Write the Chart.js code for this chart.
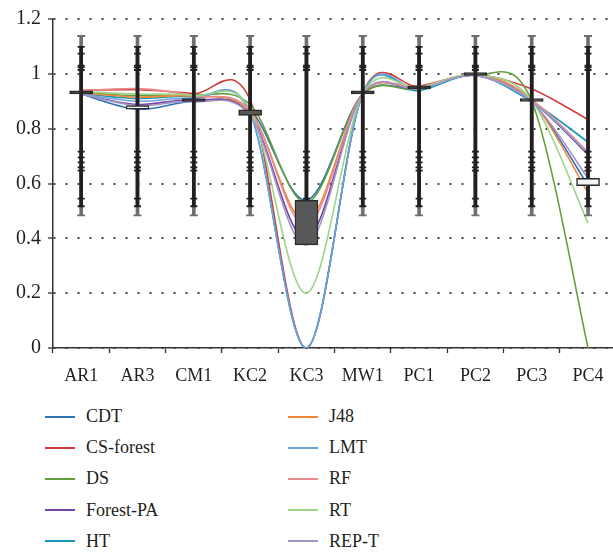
<!DOCTYPE html>
<html>
<head>
<meta charset="utf-8">
<script src="https://cdn.jsdelivr.net/npm/chart.js@4.4.1/dist/chart.umd.min.js"></script>
<style>
  html, body { margin: 0; padding: 0; background: #fff; overflow: hidden; }
  #wrap { position: relative; width: 613px; height: 554px; overflow: hidden; }
  #chart { position: absolute; left: 0; top: 0; }
  #legend {
    position: absolute; left: 45px; top: 401px;
    display: grid; grid-template-rows: repeat(5, 31.2px); grid-auto-flow: column;
    grid-template-columns: 243px 200px;
    font-family: "Times New Roman", "Liberation Serif", "DejaVu Serif", serif;
    font-size: 18px; color: #231f20;
  }
  .item { display: flex; align-items: center; }
  .swatch { width: 30px; height: 2px; margin-right: 11px; }
</style>
</head>
<body>
<div id="wrap">
  <canvas id="chart" width="622" height="390"></canvas>
  <div id="legend"></div>
</div>
<script>
const categories = ['AR1', 'AR3', 'CM1', 'KC2', 'KC3', 'MW1', 'PC1', 'PC2', 'PC3', 'PC4'];

const cdt      = [0.927, 0.871, 0.899, 0.869, 0.539, 0.927, 0.945, 0.994, 0.899, 0.592];
const csForest = [0.940, 0.942, 0.928, 0.905, 0.000, 0.930, 0.955, 0.996, 0.945, 0.833];
const ds       = [0.933, 0.920, 0.923, 0.888, 0.530, 0.925, 0.942, 0.996, 0.900, 0.000];
const forestPa = [0.926, 0.888, 0.905, 0.852, 0.400, 0.927, 0.945, 0.994, 0.900, 0.705];
const ht       = [0.928, 0.910, 0.915, 0.858, 0.000, 0.927, 0.938, 0.994, 0.898, 0.751];
const j48      = [0.931, 0.915, 0.918, 0.862, 0.462, 0.928, 0.950, 0.995, 0.902, 0.565];
const lmt      = [0.926, 0.900, 0.910, 0.860, 0.000, 0.927, 0.945, 0.994, 0.900, 0.710];
const rf       = [0.937, 0.946, 0.920, 0.865, 0.445, 0.929, 0.952, 0.995, 0.905, 0.715];
const rt       = [0.935, 0.926, 0.921, 0.870, 0.200, 0.927, 0.950, 0.996, 0.903, 0.455];
const repT     = [0.927, 0.884, 0.899, 0.848, 0.376, 0.927, 0.945, 0.994, 0.899, 0.619];

const seriesNames  = ['CDT', 'CS-forest', 'DS', 'Forest-PA', 'HT', 'J48', 'LMT', 'RF', 'RT', 'REP-T'];
const seriesValues = [cdt, csForest, ds, forestPa, ht, j48, lmt, rf, rt, repT];
const seriesColors = ['#2e72b8', '#d23c3c', '#649f3e', '#7143a2', '#1797b4',
                      '#f0873a', '#6ba1dd', '#e98a8c', '#9cd488', '#a595c7'];

// error bar range and the cap marks along it (same at every category)
const whiskerOuter = [0.484, 1.138];
const whiskerInner = [0.517, 1.098];
const whiskerTicks = [1.098, 1.074, 1.030, 1.024, 1.014, 0.716, 0.695, 0.677, 0.659, 0.647, 0.545, 0.517];

const ink = '#231f20';
const serif = '"Times New Roman", "Liberation Serif", "DejaVu Serif", serif';

// up/down bar between first and last series
const barFill = (a, b) => {
  if (b - a > 0.005) return '#f3f5f5';
  if (a - b > 0.005) return '#58585a';
  return ink;
};

// Catmull-Rom style smoothing (tangent = (next - prev) / 6), like spreadsheet smoothed lines
const smoothLines = {
  id: 'smoothLines',
  beforeDatasetDraw(chart, args) {
    if (!chart.data.datasets[args.index].smooth) return;
    const line = args.meta.dataset;
    line.updateControlPoints(chart.chartArea, 'x');
    const pts = args.meta.data;
    const last = pts.length - 1;
    pts.forEach((p, i) => {
      const a = pts[Math.max(i - 1, 0)];
      const b = pts[Math.min(i + 1, last)];
      const dx = (b.x - a.x) / 6, dy = (b.y - a.y) / 6;
      p.cp1x = p.x - dx; p.cp1y = p.y - dy;
      p.cp2x = p.x + dx; p.cp2y = p.y + dy;
    });
    line._path = undefined;
  }
};

const lineSets = seriesNames.map((name, i) => ({
  type: 'line',
  label: name,
  data: seriesValues[i],
  borderColor: seriesColors[i],
  borderWidth: 1.6,
  pointRadius: 0,
  tension: 0.4,
  fill: false,
  smooth: true,
  order: 100 - i
}));

const markSets = [
  {
    type: 'bar',
    data: categories.map(() => whiskerOuter),
    backgroundColor: '#6d6e71',
    barThickness: 3,
    grouped: false,
    order: 3
  },
  {
    type: 'bar',
    data: categories.map(() => whiskerInner),
    backgroundColor: ink,
    barThickness: 3,
    grouped: false,
    order: 2
  },
  {
    type: 'line',
    data: categories.flatMap(c => whiskerTicks.map(v => ({ x: c, y: v }))),
    showLine: false,
    pointStyle: 'line',
    pointRadius: 3.5,
    pointBorderWidth: 1.8,
    pointBorderColor: ink,
    order: 1
  },
  {
    type: 'line',
    data: categories.flatMap(c => whiskerOuter.map(v => ({ x: c, y: v }))),
    showLine: false,
    pointStyle: 'line',
    pointRadius: 4,
    pointBorderWidth: 1.8,
    pointBorderColor: '#6d6e71',
    order: 1
  },
  {
    type: 'bar',
    data: categories.map((_, i) => [cdt[i], repT[i]]),
    backgroundColor: categories.map((_, i) => barFill(cdt[i], repT[i])),
    borderColor: '#2b2b2b',
    borderWidth: 1.5,
    borderSkipped: false,
    barThickness: 23,
    minBarLength: 3,
    grouped: false,
    order: 0
  }
];

new Chart(document.getElementById('chart'), {
  type: 'line',
  data: { labels: categories, datasets: [...lineSets, ...markSets] },
  options: {
    responsive: false,
    animation: false,
    events: [],
    devicePixelRatio: 1,
    layout: { padding: { top: 16, right: 0, bottom: 0, left: 0 } },
    plugins: { legend: { display: false }, tooltip: { enabled: false } },
    scales: {
      x: {
        offset: true,
        grid: { offset: true, drawOnChartArea: false, tickLength: 5, tickColor: '#333', tickWidth: 1.3 },
        border: { color: '#333', width: 1.5 },
        ticks: { padding: 12, color: ink, font: { family: serif, size: 18 }, maxRotation: 0 },
        afterFit: s => { s.height = 42; }
      },
      y: {
        min: 0,
        max: 1.2,
        ticks: {
          stepSize: 0.2, padding: 7, color: ink, font: { family: serif, size: 20 },
          callback: v => String(Math.round(v * 10) / 10)
        },
        grid: { color: '#444', lineWidth: 2, tickLength: 5, tickColor: '#333', tickWidth: 1.3 },
        border: { color: '#333', width: 1.5, dash: [2, 10] },
        afterFit: s => { s.width = 53; }
      }
    }
  },
  plugins: [smoothLines]
});

// two-column legend under the plot
const legend = document.getElementById('legend');
seriesNames.forEach((name, i) => {
  const item = document.createElement('div');
  item.className = 'item';
  const sw = document.createElement('span');
  sw.className = 'swatch';
  sw.style.background = seriesColors[i];
  const txt = document.createElement('span');
  txt.textContent = name;
  item.append(sw, txt);
  legend.appendChild(item);
});
</script>
</body>
</html>
